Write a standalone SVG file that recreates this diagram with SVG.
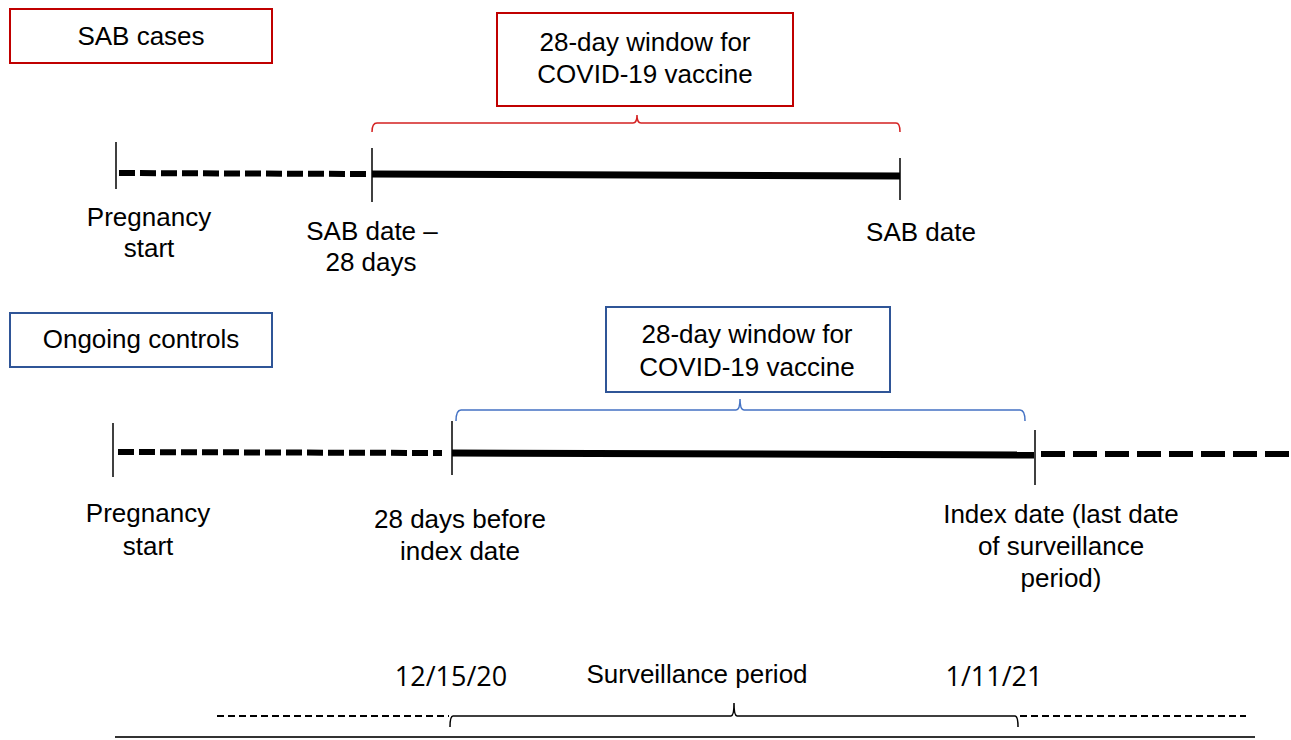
<svg xmlns="http://www.w3.org/2000/svg" width="1291" height="740" viewBox="0 0 1291 740">
<style>
text{font-family:"Liberation Sans",Arial,sans-serif;font-size:26px;fill:#000;text-anchor:middle}
.date{font-family:"Open Sans","Liberation Sans",sans-serif;font-size:27px}
.redbox{fill:#fff;stroke:#C00000;stroke-width:2}
.bluebox{fill:#fff;stroke:#2F5597;stroke-width:2}
.tick{stroke:#000;stroke-width:1.5}
.solid{stroke:#000;stroke-width:7;fill:none}
.dash{stroke:#000;stroke-width:6;fill:none;stroke-dasharray:16 5}
.dash2{stroke:#000;stroke-width:6;fill:none;stroke-dasharray:24 8}
.brace{fill:none;stroke-width:1.5}
</style>
<rect width="1291" height="740" fill="#fff"/>

<g id="sab-cases-label">
<rect class="redbox" x="10" y="9" width="262" height="54"/>
<text x="141" y="45">SAB cases</text>
</g>
<g id="sab-window-box">
<rect class="redbox" x="497" y="13" width="296" height="93"/>
<text x="645" y="51">28-day window for</text>
<text x="645" y="83">COVID-19 vaccine</text>
</g>
<g id="sab-preg-start">
<text x="149" y="226">Pregnancy</text>
<text x="149" y="257">start</text>
</g>
<g id="sab-minus28">
<text x="372" y="240">SAB date –</text>
<text x="371" y="271">28 days</text>
</g>
<g id="sab-date">
<text x="921" y="241">SAB date</text>
</g>

<g id="ongoing-label">
<rect class="bluebox" x="10" y="313" width="262" height="54"/>
<text x="141" y="348">Ongoing controls</text>
</g>
<g id="ongoing-window-box">
<rect class="bluebox" x="606" y="307" width="284" height="85"/>
<text x="747" y="343">28-day window for</text>
<text x="747" y="376">COVID-19 vaccine</text>
</g>
<g id="ongoing-preg-start">
<text x="148" y="522">Pregnancy</text>
<text x="148" y="555">start</text>
</g>
<g id="ongoing-28before">
<text x="460" y="528">28 days before</text>
<text x="460" y="560">index date</text>
</g>
<g id="ongoing-index">
<text x="1061" y="523">Index date (last date</text>
<text x="1061" y="555">of surveillance</text>
<text x="1061" y="587">period)</text>
</g>

<g id="surveillance-labels">
<text class="date" x="451" y="686">12/15/20</text>
<text x="697" y="683">Surveillance period</text>
<text class="date" x="994" y="686">1/11/21</text>
</g>

<g id="connectors">
<!-- SAB timeline -->
<line class="tick" x1="116" y1="142" x2="116" y2="189"/>
<line class="dash" x1="119" y1="173" x2="368" y2="174"/>
<line class="tick" x1="372" y1="148" x2="372" y2="202"/>
<line class="solid" x1="372" y1="174" x2="900" y2="176"/>
<line class="tick" x1="900" y1="158" x2="900" y2="200"/>
<path class="brace" stroke="#D42020" d="M372,132 Q372,123 377,123 L633,123 Q637,123 637,115 Q637,123 641,123 L896,123 Q900,123 900,132"/>

<!-- Ongoing timeline -->
<line class="tick" x1="113" y1="423" x2="113" y2="477"/>
<line class="dash" x1="118" y1="452" x2="442" y2="453"/>
<line class="tick" x1="452" y1="421" x2="452" y2="475"/>
<line class="solid" x1="452" y1="453" x2="1034" y2="455"/>
<line class="tick" x1="1035" y1="430" x2="1035" y2="485"/>
<line class="dash2" x1="1041" y1="454" x2="1291" y2="454"/>
<path class="brace" stroke="#4472C4" d="M456,421 Q456,410 461,410 L736,410 Q740,410 740,399 Q740,410 744,410 L1020,410 Q1025,410 1025,421"/>

<!-- Surveillance period -->
<line x1="217" y1="716" x2="449" y2="716" stroke="#000" stroke-width="1.8" stroke-dasharray="7 4"/>
<line x1="1020" y1="716" x2="1246" y2="716" stroke="#000" stroke-width="1.8" stroke-dasharray="7 4"/>
<path class="brace" stroke="#000" d="M450,727 Q450,716 453,716 L731,716 Q734,716 734,703 Q734,716 737,716 L1015,716 Q1018,716 1018,727"/>
<line x1="115" y1="737" x2="1255" y2="737" stroke="#333" stroke-width="2"/>
</g>
</svg>
